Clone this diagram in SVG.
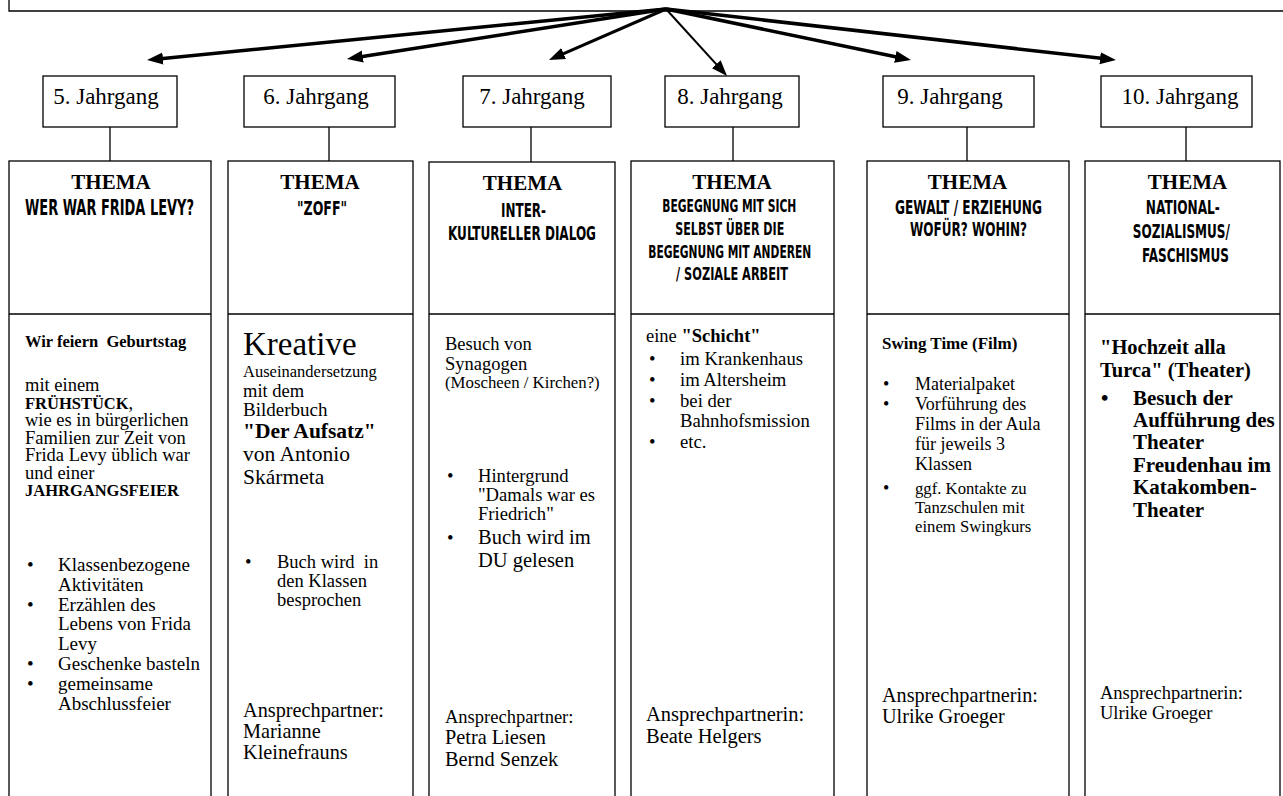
<svg xmlns="http://www.w3.org/2000/svg" width="1283" height="796" viewBox="0 0 1283 796">
<style>
.ln{fill:none;stroke:#000;stroke-width:1.3}
.ar{fill:none;stroke:#000;stroke-linecap:butt}
.jt{font-family:"Liberation Serif",serif;font-size:23px;text-anchor:middle;fill:#000}
.th{font-family:"Liberation Serif",serif;font-weight:bold;font-size:21px;text-anchor:middle;fill:#000}
.cd{font-family:"DejaVu Sans Condensed","DejaVu Sans",sans-serif;font-weight:bold;font-stretch:condensed;text-anchor:middle;fill:#000}
.t{font-family:"Liberation Serif",serif;fill:#000}
.b{font-weight:bold}
</style>
<defs>
<marker id="ah" markerUnits="userSpaceOnUse" markerWidth="18" markerHeight="14" refX="10" refY="7" orient="auto">
<path d="M0,1 L16,7 L0,13 z" fill="#000"/>
</marker>
</defs>
<rect width="1283" height="796" fill="#fff"/>

<g id="top-box"><path class="ln" d="M9,0 V11 H1290"/></g>

<g id="connectors">
<line class="ar" x1="666" y1="9" x2="153" y2="59.4" stroke-width="3.5" marker-end="url(#ah)"/>
<line class="ar" x1="666" y1="9" x2="352.9" y2="58.1" stroke-width="3.5" marker-end="url(#ah)"/>
<line class="ar" x1="666" y1="9" x2="554.5" y2="57.6" stroke-width="3" marker-end="url(#ah)"/>
<line class="ar" x1="666" y1="9" x2="723" y2="71.6" stroke-width="2" marker-end="url(#ah)"/>
<line class="ar" x1="666" y1="9" x2="905.1" y2="58.8" stroke-width="3.5" marker-end="url(#ah)"/>
<line class="ar" x1="666" y1="9" x2="1110" y2="59.3" stroke-width="3.5" marker-end="url(#ah)"/>
<path class="ln" d="M110,127 V161 M329,127 V161 M531,127 V162 M733,127 V161 M967,127 V161 M1186,127 V161"/>
</g>

<g id="j5"><rect class="ln" x="43" y="76" width="134" height="51"/><text class="jt" x="106" y="104">5. Jahrgang</text></g>
<g id="j6"><rect class="ln" x="244" y="76" width="151" height="51"/><text class="jt" x="316" y="104">6. Jahrgang</text></g>
<g id="j7"><rect class="ln" x="463" y="76" width="148" height="51"/><text class="jt" x="532" y="104">7. Jahrgang</text></g>
<g id="j8"><rect class="ln" x="665" y="76" width="134" height="51"/><text class="jt" x="730" y="104">8. Jahrgang</text></g>
<g id="j9"><rect class="ln" x="883" y="76" width="151" height="51"/><text class="jt" x="950" y="104">9. Jahrgang</text></g>
<g id="j10"><rect class="ln" x="1101" y="76" width="151" height="51"/><text class="jt" x="1180" y="104">10. Jahrgang</text></g>

<g id="col5">
<rect class="ln" x="9" y="161" width="202" height="700"/>
<line class="ln" x1="9" y1="314" x2="211" y2="314"/>
<text class="th" x="111" y="189">THEMA</text>
<text class="cd" x="109.5" y="215" font-size="22" textLength="169" lengthAdjust="spacingAndGlyphs">WER WAR FRIDA LEVY?</text>
<text class="t b" x="25" y="347" font-size="16.5">Wir feiern&#160; Geburtstag</text>
<text class="t" font-size="18.5">
<tspan x="25" y="391">mit einem</tspan>
<tspan x="25" y="408.5"><tspan class="b" font-size="16.5">FRÜHSTÜCK</tspan>,</tspan>
<tspan x="25" y="426">wie es in bürgerlichen</tspan>
<tspan x="25" y="443.5">Familien zur Zeit von</tspan>
<tspan x="25" y="461">Frida Levy üblich war</tspan>
<tspan x="25" y="478.5">und einer</tspan>
<tspan x="25" y="496" class="b" font-size="16.5">JAHRGANGSFEIER</tspan>
</text>
<text class="t" font-size="19">
<tspan x="27" y="571">•</tspan><tspan x="58" y="571">Klassenbezogene</tspan>
<tspan x="58" y="590.8">Aktivitäten</tspan>
<tspan x="27" y="610.6">•</tspan><tspan x="58" y="610.6">Erzählen des</tspan>
<tspan x="58" y="630.4">Lebens von Frida</tspan>
<tspan x="58" y="650.2">Levy</tspan>
<tspan x="27" y="670">•</tspan><tspan x="58" y="670">Geschenke basteln</tspan>
<tspan x="27" y="689.8">•</tspan><tspan x="58" y="689.8">gemeinsame</tspan>
<tspan x="58" y="709.6">Abschlussfeier</tspan>
</text>
</g>

<g id="col6">
<rect class="ln" x="228" y="161" width="185" height="700"/>
<line class="ln" x1="228" y1="314" x2="413" y2="314"/>
<text class="th" x="320" y="189">THEMA</text>
<text class="cd" x="322" y="215" font-size="20" textLength="50" lengthAdjust="spacingAndGlyphs">"ZOFF"</text>
<text class="t" x="243" y="355" font-size="33">Kreative</text>
<text class="t" x="243" y="377" font-size="16.5">Auseinandersetzung</text>
<text class="t" x="243" y="397" font-size="18.5">mit dem</text>
<text class="t" x="243" y="416" font-size="19">Bilderbuch</text>
<text class="t b" x="243" y="438" font-size="21.5">"Der Aufsatz"</text>
<text class="t" x="243" y="461" font-size="21.5">von Antonio</text>
<text class="t" x="243" y="484" font-size="21.5">Skármeta</text>
<text class="t" font-size="18.5">
<tspan x="245" y="568">•</tspan><tspan x="277" y="568">Buch wird&#160; in</tspan>
<tspan x="277" y="587">den Klassen</tspan>
<tspan x="277" y="606">besprochen</tspan>
</text>
<text class="t" font-size="20.3">
<tspan x="243" y="717">Ansprechpartner:</tspan>
<tspan x="243" y="738">Marianne</tspan>
<tspan x="243" y="759">Kleinefrauns</tspan>
</text>
</g>

<g id="col7">
<rect class="ln" x="429" y="162" width="186" height="700"/>
<line class="ln" x1="429" y1="314" x2="615" y2="314"/>
<text class="th" x="522.5" y="190">THEMA</text>
<text class="cd" x="523.5" y="217" font-size="20" textLength="45" lengthAdjust="spacingAndGlyphs">INTER-</text>
<text class="cd" x="522" y="240" font-size="20" textLength="148" lengthAdjust="spacingAndGlyphs">KULTURELLER DIALOG</text>
<text class="t" font-size="18.5">
<tspan x="445" y="350">Besuch von</tspan>
<tspan x="445" y="370">Synagogen</tspan>
<tspan x="445" y="388" font-size="16.8">(Moscheen / Kirchen?)</tspan>
</text>
<text class="t" font-size="18.6">
<tspan x="447" y="482">•</tspan><tspan x="478" y="482">Hintergrund</tspan>
<tspan x="478" y="501">"Damals war es</tspan>
<tspan x="478" y="520">Friedrich"</tspan>
<tspan x="447" y="544">•</tspan><tspan x="478" y="544" font-size="20.5">Buch wird im</tspan>
<tspan x="478" y="567" font-size="20.5">DU gelesen</tspan>
</text>
<text class="t" font-size="18.5">
<tspan x="445" y="723">Ansprechpartner:</tspan>
<tspan x="445" y="744" font-size="20.3">Petra Liesen</tspan>
<tspan x="445" y="766" font-size="20.3">Bernd Senzek</tspan>
</text>
</g>

<g id="col8">
<rect class="ln" x="631" y="161" width="203" height="700"/>
<line class="ln" x1="631" y1="314" x2="834" y2="314"/>
<text class="th" x="732" y="189">THEMA</text>
<text class="cd" font-size="17.5">
<tspan x="732" y="212" textLength="134" lengthAdjust="spacingAndGlyphs">BEGEGNUNG MIT SICH</tspan>
<tspan x="732.5" y="235" textLength="109" lengthAdjust="spacingAndGlyphs">SELBST ÜBER DIE</tspan>
<tspan x="732.5" y="258" textLength="163" lengthAdjust="spacingAndGlyphs">BEGEGNUNG MIT ANDEREN</tspan>
<tspan x="732" y="280" textLength="112" lengthAdjust="spacingAndGlyphs">/ SOZIALE ARBEIT</tspan>
</text>
<text class="t" x="646" y="342" font-size="18.5">eine <tspan class="b">"Schicht"</tspan></text>
<text class="t" font-size="18.7">
<tspan x="649" y="365">•</tspan><tspan x="680" y="365">im Krankenhaus</tspan>
<tspan x="649" y="386">•</tspan><tspan x="680" y="386">im Altersheim</tspan>
<tspan x="649" y="407">•</tspan><tspan x="680" y="407">bei der</tspan>
<tspan x="680" y="427">Bahnhofsmission</tspan>
<tspan x="649" y="448">•</tspan><tspan x="680" y="448">etc.</tspan>
</text>
<text class="t" font-size="20.5">
<tspan x="646" y="721">Ansprechpartnerin:</tspan>
<tspan x="646" y="743">Beate Helgers</tspan>
</text>
</g>

<g id="col9">
<rect class="ln" x="867" y="161" width="202" height="700"/>
<line class="ln" x1="867" y1="314" x2="1069" y2="314"/>
<text class="th" x="967.5" y="189">THEMA</text>
<text class="cd" x="968.5" y="214" font-size="20" textLength="147" lengthAdjust="spacingAndGlyphs">GEWALT / ERZIEHUNG</text>
<text class="cd" x="968.5" y="236" font-size="20" textLength="117" lengthAdjust="spacingAndGlyphs">WOFÜR? WOHIN?</text>
<text class="t b" x="882" y="349" font-size="17">Swing Time (Film)</text>
<text class="t" font-size="18">
<tspan x="883" y="390">•</tspan><tspan x="915" y="390">Materialpaket</tspan>
<tspan x="883" y="410">•</tspan><tspan x="915" y="410">Vorführung des</tspan>
<tspan x="915" y="430">Films in der Aula</tspan>
<tspan x="915" y="450">für jeweils 3</tspan>
<tspan x="915" y="470">Klassen</tspan>
<tspan x="883" y="494">•</tspan><tspan x="915" y="494" font-size="16.7">ggf. Kontakte zu</tspan>
<tspan x="915" y="513" font-size="16.7">Tanzschulen mit</tspan>
<tspan x="915" y="532" font-size="16.7">einem Swingkurs</tspan>
</text>
<text class="t" font-size="20.2">
<tspan x="882" y="702">Ansprechpartnerin:</tspan>
<tspan x="882" y="723">Ulrike Groeger</tspan>
</text>
</g>

<g id="col10">
<rect class="ln" x="1085" y="161" width="195" height="700"/>
<line class="ln" x1="1085" y1="314" x2="1280" y2="314"/>
<text class="th" x="1187.5" y="189">THEMA</text>
<text class="cd" font-size="20">
<tspan x="1186" y="214" textLength="74" lengthAdjust="spacingAndGlyphs">NATIONAL-</tspan>
<tspan x="1184.5" y="238" textLength="97" lengthAdjust="spacingAndGlyphs">SOZIALISMUS/</tspan>
<tspan x="1185.5" y="262" textLength="87" lengthAdjust="spacingAndGlyphs">FASCHISMUS</tspan>
</text>
<text class="t b" font-size="20.5">
<tspan x="1100" y="354">"Hochzeit alla</tspan>
<tspan x="1100" y="377">Turca" (Theater)</tspan>
</text>
<text class="t b" font-size="21">
<tspan x="1101" y="405">•</tspan><tspan x="1133" y="405">Besuch der</tspan>
<tspan x="1133" y="427">Aufführung des</tspan>
<tspan x="1133" y="449">Theater</tspan>
<tspan x="1133" y="472">Freudenhau im</tspan>
<tspan x="1133" y="494">Katakomben-</tspan>
<tspan x="1133" y="517">Theater</tspan>
</text>
<text class="t" font-size="18.5">
<tspan x="1100" y="699">Ansprechpartnerin:</tspan>
<tspan x="1100" y="719">Ulrike Groeger</tspan>
</text>
</g>
</svg>
